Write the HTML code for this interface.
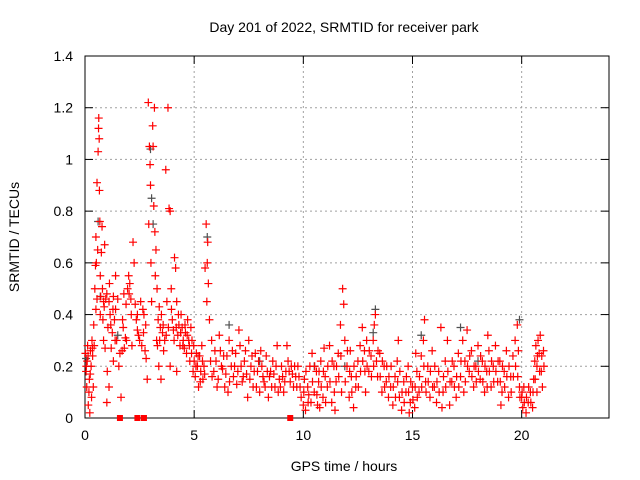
<!DOCTYPE html>
<html><head><meta charset="utf-8"><style>
body{margin:0;background:#fff}
svg{display:block;font-family:"Liberation Sans",sans-serif}
</style></head><body>
<svg id="chart" width="640" height="480">
<text x="344" y="32" font-size="14" text-anchor="middle">Day 201 of 2022, SRMTID for receiver park</text>
<text x="344" y="471" font-size="14" text-anchor="middle">GPS time / hours</text>
<text transform="translate(19,237) rotate(-90)" font-size="14" text-anchor="middle">SRMTID / TECUs</text>
<g id="grid"></g><g id="axes"></g><g id="marks"></g>
</svg>
<script>
const xTicks=[0,5,10,15,20];
const yTicks=[0,0.2,0.4,0.6,0.8,1,1.2,1.4];
const yTickLabels=["0","0.2","0.4","0.6","0.8","1","1.2","1.4"];
const grayPoints=[[0.05,0.23],[0.6,0.76],[0.7,0.47],[1.5,0.32],[3.0,1.04],[3.05,0.85],[3.12,0.75],[5.6,0.7],[6.6,0.36],[8.0,0.22],[13.3,0.42],[13.2,0.33],[15.4,0.32],[17.2,0.35],[18.0,0.22],[19.9,0.38],[11.9,0.2],[10.5,0.2]];
const redPoints=[[0.02,0.25],[0.05,0.18],[0.08,0.12],[0.1,0.22],[0.12,0.28],[0.15,0.05],[0.18,0.1],[0.2,0.15],[0.22,0.02],[0.25,0.26],[0.28,0.2],[0.3,0.08],[0.32,0.3],[0.35,0.24],[0.38,0.12],[0.4,0.36],[0.42,0.28],[0.45,0.5],[0.48,0.59],[0.5,0.42],
[0.5,0.7],[0.52,0.6],[0.55,0.91],[0.58,0.65],[0.6,1.03],[0.62,1.12],[0.63,1.16],[0.65,1.08],[0.66,0.88],[0.68,0.76],[0.7,0.55],[0.72,0.47],[0.75,0.64],[0.78,0.74],[0.8,0.5],[0.82,0.38],[0.85,0.3],[0.88,0.43],[0.9,0.67],[0.92,0.27],
[0.95,0.46],[1.0,0.48],[1.02,0.18],[1.05,0.35],[1.1,0.45],[1.12,0.52],[1.15,0.4],[1.2,0.27],[1.25,0.33],[1.3,0.47],[1.35,0.38],[1.4,0.42],[1.45,0.3],[1.5,0.46],[1.55,0.2],[1.6,0.25],[1.3,0.22],[1.1,0.12],[1.0,0.06],[1.4,0.55],
[1.65,0.08],[1.7,0.26],[1.72,0.38],[1.75,0.35],[1.8,0.27],[1.85,0.31],[1.9,0.3],[1.95,0.5],[2.0,0.55],[2.05,0.52],[2.1,0.46],[2.15,0.28],[2.2,0.68],[2.25,0.6],[2.3,0.44],[2.35,0.38],[2.4,0.34],[2.45,0.32],[2.5,0.3],[2.55,0.45],
[2.6,0.28],[2.65,0.42],[2.7,0.4],[2.75,0.26],[2.8,0.23],[2.85,0.15],[2.9,1.22],[2.92,0.75],[2.95,1.05],[2.98,0.98],[3.0,0.9],[3.02,0.6],[3.05,0.45],[3.1,1.13],[3.12,1.05],[3.15,0.82],[3.18,1.2],[3.2,0.72],[3.22,0.55],[3.25,0.65],[3.28,0.3],[3.3,0.5],[3.35,0.38],[3.38,0.2],[3.4,0.43],[3.45,0.35],[3.48,0.15],[3.5,0.4],
[3.55,0.33],[3.6,0.26],[3.65,0.3],[3.7,0.96],[3.75,0.45],[3.8,1.2],[3.85,0.81],[3.9,0.8],[3.95,0.5],[4.0,0.38],[4.05,0.34],[4.1,0.62],[4.15,0.58],[4.2,0.45],[4.25,0.32],[4.3,0.36],[4.35,0.28],[4.4,0.4],[4.45,0.35],[4.5,0.3],[4.55,0.27],[4.6,0.33],[4.65,0.25],[4.7,0.38],[4.75,0.3],[4.8,0.22],[3.9,0.2],[4.2,0.18],
[4.85,0.35],[4.9,0.3],[4.95,0.18],[5.0,0.22],[5.05,0.16],[5.1,0.25],[5.15,0.2],[5.2,0.12],[5.25,0.24],[5.3,0.18],[5.35,0.28],[5.4,0.15],[5.45,0.2],
[5.5,0.58],[5.55,0.75],[5.6,0.6],[5.62,0.68],[5.65,0.52],[5.7,0.38],[5.58,0.45],[5.75,0.22],[5.8,0.3],
[5.9,0.18],[6.0,0.22],[6.1,0.15],[6.2,0.26],[6.3,0.19],[6.4,0.12],[6.5,0.24],[6.6,0.3],[6.7,0.2],[6.8,0.16],[6.9,0.25],[7.0,0.18],[7.1,0.28],[7.2,0.14],[7.3,0.22],[7.4,0.17],[7.5,0.3],[7.6,0.2],[7.7,0.12],[7.8,0.25],[7.9,0.18],[8.0,0.1],[8.1,0.2],[8.2,0.14],[8.3,0.24],[8.4,0.08],[8.5,0.18],[8.6,0.22],[8.7,0.12],[8.8,0.28],[8.9,0.15],[9.0,0.2],[9.1,0.1],[9.2,0.18],[9.3,0.22],[9.4,0.14],[9.5,0.17],[6.15,0.32],[6.55,0.1],[7.05,0.34],[7.45,0.08],[8.05,0.26],[8.45,0.16],[8.95,0.12],[9.25,0.28],[9.6,0.2],[9.7,0.12],[9.8,0.16],
[9.9,0.08],[10.0,0.05],[10.05,0.15],[10.1,0.03],[10.2,0.12],[10.3,0.2],[10.35,0.06],[10.4,0.25],[10.5,0.1],[10.6,0.18],[10.65,0.05],[10.7,0.14],[10.8,0.22],[10.9,0.08],[11.0,0.16],[10.25,0.09],[10.75,0.04],[10.95,0.27],
[11.1,0.12],[11.2,0.28],[11.3,0.06],[11.4,0.2],[11.5,0.14],[11.6,0.25],[11.7,0.36],[11.75,0.1],[11.8,0.5],[11.85,0.44],[11.9,0.3],[12.0,0.2],[12.1,0.08],[12.2,0.16],[12.3,0.04],[12.4,0.12],[12.5,0.22],[12.6,0.28],[12.7,0.35],[12.8,0.26],[12.9,0.3],[13.0,0.18],[13.1,0.24],[13.2,0.3],[13.25,0.36],[13.3,0.4],[13.35,0.22],[13.4,0.16],[13.5,0.25],[13.6,0.1],[13.7,0.2],[13.8,0.14],[13.9,0.08],[12.15,0.26],[11.45,0.03],[12.85,0.1],
[14.0,0.12],[14.1,0.05],[14.2,0.16],[14.3,0.22],[14.4,0.08],[14.5,0.03],[14.6,0.14],[14.7,0.1],[14.8,0.2],[14.9,0.06],[15.0,0.12],[15.1,0.04],[15.2,0.18],[15.3,0.1],[15.4,0.24],[14.35,0.3],[14.85,0.02],[15.15,0.25],
[15.5,0.3],[15.55,0.38],[15.6,0.14],[15.7,0.2],[15.8,0.08],[15.9,0.26],[16.0,0.12],[16.1,0.06],[16.2,0.18],[16.3,0.35],[16.4,0.1],[16.5,0.22],[16.6,0.3],[16.7,0.05],[16.8,0.14],[16.9,0.2],[17.0,0.08],[17.1,0.25],[17.2,0.16],[17.3,0.3],[17.4,0.22],[17.5,0.34],[17.6,0.18],[17.7,0.26],[17.8,0.12],[17.9,0.2],[18.0,0.28],[18.1,0.15],[18.2,0.22],[18.3,0.1],[18.4,0.18],[18.5,0.26],[18.6,0.12],[18.7,0.2],[18.8,0.28],[18.9,0.14],[19.0,0.22],[19.1,0.1],[19.2,0.18],[19.3,0.26],[19.4,0.08],[19.5,0.16],[19.6,0.24],[19.7,0.3],[19.8,0.36],[19.85,0.26],[19.9,0.12],[16.35,0.04],[17.35,0.1],[18.45,0.32],[19.05,0.05],
[20.0,0.08],[20.05,0.04],[20.1,0.12],[20.2,0.02],[20.3,0.06],[20.4,0.1],[20.5,0.04],[20.55,0.15],[20.6,0.22],[20.65,0.28],[20.7,0.2],[20.75,0.3],[20.8,0.25],[20.85,0.32],[20.9,0.18],[20.95,0.12],[21.0,0.26],[20.7,0.1]];
const redPointsDense=[[0.06,0.2],[0.14,0.24],[0.24,0.17],[0.34,0.27],[0.55,0.46],[0.7,0.4],[0.85,0.45],[1.18,0.36],[1.28,0.42],[1.38,0.3],[1.78,0.48],[1.88,0.44],[2.02,0.48],[2.12,0.4],[2.4,0.4],[2.68,0.33],[2.78,0.36],[3.32,0.28],[3.42,0.3],[3.58,0.36],[3.72,0.32],[3.82,0.35],[3.96,0.42],[4.08,0.3],[4.18,0.35],[4.28,0.4],[4.38,0.33],[4.48,0.28],[4.58,0.36],[4.68,0.32],[4.78,0.28],[4.88,0.25],[4.98,0.28],
[5.08,0.2],[5.18,0.24],[5.28,0.14],[5.38,0.22],[5.48,0.17],[5.82,0.16],[5.95,0.26],[6.05,0.12],[6.25,0.2],[6.35,0.24],[6.45,0.17],[6.62,0.14],[6.75,0.26],[6.85,0.2],[6.95,0.13],[7.15,0.2],[7.25,0.16],[7.35,0.26],[7.55,0.15],[7.65,0.24],[7.75,0.18],[7.85,0.12],[7.95,0.22],[8.15,0.16],[8.25,0.12],[8.35,0.18],[8.55,0.12],[8.65,0.17],[8.75,0.2],[8.85,0.1],[9.05,0.16],[9.15,0.14],[9.35,0.18],[9.45,0.2],[9.55,0.12],[9.65,0.16],[9.75,0.2],[9.85,0.12],
[10.02,0.1],[10.12,0.18],[10.22,0.06],[10.42,0.14],[10.52,0.2],[10.62,0.09],[10.72,0.18],[10.82,0.12],[10.92,0.18],[11.02,0.06],[11.12,0.2],[11.22,0.14],[11.32,0.22],[11.42,0.1],[11.52,0.2],[11.62,0.16],[11.72,0.24],[11.92,0.14],[12.02,0.26],[12.12,0.18],[12.22,0.1],[12.32,0.2],[12.42,0.16],[12.52,0.12],[12.62,0.18],[12.72,0.22],[12.82,0.18],[12.92,0.2],[13.02,0.26],[13.12,0.16],[13.22,0.2],[13.42,0.26],[13.52,0.16],[13.62,0.22],[13.72,0.12],[13.82,0.2],[13.92,0.16],
[14.02,0.2],[14.12,0.12],[14.22,0.08],[14.32,0.14],[14.42,0.18],[14.52,0.1],[14.62,0.06],[14.72,0.16],[14.82,0.1],[14.92,0.14],[15.02,0.07],[15.12,0.12],[15.22,0.08],[15.32,0.16],[15.42,0.12],[15.52,0.2],[15.62,0.1],[15.72,0.14],[15.82,0.18],[15.92,0.12],[16.02,0.2],[16.12,0.14],[16.22,0.1],[16.42,0.16],[16.52,0.12],[16.62,0.18],[16.72,0.14],[16.82,0.22],[16.92,0.12],[17.02,0.16],[17.12,0.12],[17.22,0.22],[17.42,0.14],[17.52,0.2],[17.62,0.24],[17.72,0.16],[17.82,0.2],[17.92,0.14],[18.02,0.18],[18.12,0.24],[18.22,0.14],[18.32,0.2],[18.42,0.12],[18.52,0.18],[18.62,0.22],[18.72,0.14],[18.82,0.18],[18.92,0.22],[19.02,0.14],[19.12,0.2],[19.22,0.12],[19.32,0.16],[19.42,0.2],[19.52,0.1],[19.62,0.16],[19.72,0.2],[19.82,0.16],[19.92,0.08],
[20.02,0.1],[20.12,0.06],[20.22,0.08],[20.32,0.12],[20.42,0.06],[20.52,0.1],[20.62,0.15],[20.72,0.24],[20.82,0.18],[20.92,0.24],[21.02,0.2]];
const zeroHours=[1.6,2.4,2.7,9.4];

const L=85,R=609,T=56,B=418,XMAX=24,YMAX=1.4;
const xs=h=>L+(R-L)*h/XMAX;
const ys=v=>B-(B-T)*v/YMAX;
const NS="http://www.w3.org/2000/svg";
function mk(tag,attrs,parent){const e=document.createElementNS(NS,tag);for(const k in attrs)e.setAttribute(k,attrs[k]);parent.appendChild(e);return e;}
const grid=document.getElementById('grid'),axes=document.getElementById('axes'),marks=document.getElementById('marks');

yTicks.forEach((v,i)=>{
  const y=ys(v);
  if(i>0&&i<yTicks.length-1){const g=mk('line',{x1:L,x2:R,y1:y,y2:y,stroke:'#a0a0a0','stroke-dasharray':'2,3'},grid);
  
  }
  mk('line',{x1:L,x2:L+8,y1:y,y2:y,stroke:'#000'},axes);
  mk('line',{x1:R,x2:R-8,y1:y,y2:y,stroke:'#000'},axes);
  const t=mk('text',{x:L-12,y:y+5,'font-size':14,'text-anchor':'end'},axes);
  t.textContent=yTickLabels[i];
  
  
});
xTicks.forEach(h=>{
  const x=xs(h);
  if(h>0){const g=mk('line',{x1:x,x2:x,y1:T,y2:B,stroke:'#a0a0a0','stroke-dasharray':'2,3'},grid);
  
  }
  mk('line',{x1:x,x2:x,y1:B,y2:B-8,stroke:'#000'},axes);
  mk('line',{x1:x,x2:x,y1:T,y2:T+8,stroke:'#000'},axes);
  const t=mk('text',{x:x,y:B+22,'font-size':14,'text-anchor':'middle'},axes);
  t.textContent=String(h);
  
  
});
const frame=mk('rect',{x:L,y:T,width:R-L,height:B-T,fill:'none',stroke:'#000'},axes);



function plus(h,v,color){
  const x=xs(h),y=ys(v);
  const p=mk('path',{d:`M${x-4} ${y}H${x+4}M${x} ${y-4}V${y+4}`,stroke:color,'stroke-width':1.2,fill:'none'},marks);
  return p;
}
grayPoints.forEach(([h,v])=>{
  const p=plus(h,v,'#505050');
  
  
});
redPoints.forEach(([h,v])=>{
  const p=plus(h,v,'#ff0000');
  
  
});
redPointsDense.forEach(([h,v])=>{
  const p=plus(h,v,'#ff0000');
  
  
});
zeroHours.forEach(h=>{
  const r=mk('rect',{x:xs(h)-3,y:ys(0)-3,width:6,height:6,fill:'#ff0000'},marks);
  
  
});
</script>
</body></html>
